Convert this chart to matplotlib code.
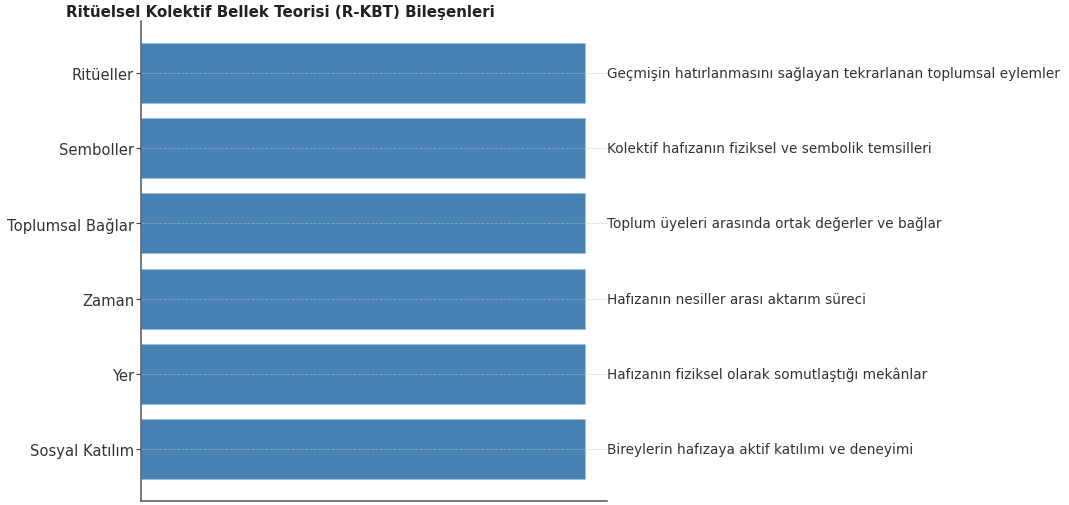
import matplotlib.pyplot as plt

# Components and their descriptions
components = ["Ritüeller", "Semboller", "Toplumsal Bağlar", "Zaman", "Yer", "Sosyal Katılım"]
descriptions = [
    "Geçmişin hatırlanmasını sağlayan tekrarlanan toplumsal eylemler",
    "Kolektif hafızanın fiziksel ve sembolik temsilleri",
    "Toplum üyeleri arasında ortak değerler ve bağlar",
    "Hafızanın nesiller arası aktarım süreci",
    "Hafızanın fiziksel olarak somutlaştığı mekânlar",
    "Bireylerin hafızaya aktif katılımı ve deneyimi",
]
values = [1, 1, 1, 1, 1, 1]

fig = plt.figure(figsize=(10.69, 5.06), dpi=100)
ax = fig.add_axes([141/1069, 4/506, 466/1069, 480/506])

ypos = list(range(len(components)))
ax.barh(ypos, values, height=0.8, color='steelblue', edgecolor='#9fbcd6', linewidth=0.5, zorder=2)
ax.set_yticks(ypos)
ax.set_yticklabels(components, fontsize=10.6, color='#333333')
ax.invert_yaxis()
ax.set_xlim(0, 1.05)
ax.set_xticks([])

for y, v, d in zip(ypos, values, descriptions):
    ax.text(v + 0.05, y, d, va='center', ha='left', fontsize=9.8, color='#333333')

ax.grid(axis='y', color='#bbbbbb', linestyle='--', linewidth=0.6, alpha=0.6, zorder=3)
ax.set_axisbelow(False)
for s in ['top', 'right']:
    ax.spines[s].set_visible(False)
for s in ['left', 'bottom']:
    ax.spines[s].set_color('#555555')
    ax.spines[s].set_linewidth(1.1)
ax.tick_params(axis='y', length=3.5, pad=1.5, color='#444444')

fig.text(280/1069, 1 - 12/506, "Ritüelsel Kolektif Bellek Teorisi (R-KBT) Bileşenleri",
         ha='center', va='center', fontsize=10.8, fontweight='bold', color='#222222')

fig.savefig('out.png', dpi=100)
